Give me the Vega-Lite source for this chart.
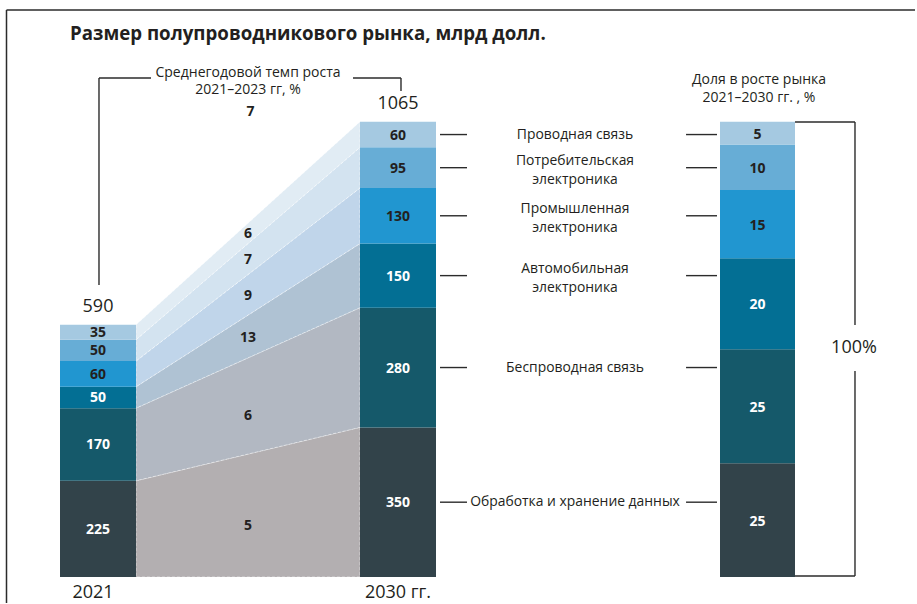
{
  "$schema": "https://vega.github.io/schema/vega-lite/v6.json",
  "width": 917,
  "height": 604,
  "autosize": {"type": "fit", "contains": "padding"},
  "padding": 0,
  "background": "#ffffff",
  "config": {
    "font": "Open Sans",
    "view": {"stroke": null},
    "text": {"color": "#231f20"},
    "rule": {"color": "#2b2b2b", "strokeWidth": 1.4}
  },
  "datasets": {
    "market": [
      {"year": 2021, "segment": "Обработка и хранение данных", "label": "Обработка и хранение данных", "rank": 1, "value": 225, "cagr": 5},
      {"year": 2021, "segment": "Беспроводная связь", "label": "Беспроводная связь", "rank": 2, "value": 170, "cagr": 6},
      {"year": 2021, "segment": "Автомобильная электроника", "label": "Автомобильная\nэлектроника", "rank": 3, "value": 50, "cagr": 13},
      {"year": 2021, "segment": "Промышленная электроника", "label": "Промышленная\nэлектроника", "rank": 4, "value": 60, "cagr": 9},
      {"year": 2021, "segment": "Потребительская электроника", "label": "Потребительская\nэлектроника", "rank": 5, "value": 50, "cagr": 7},
      {"year": 2021, "segment": "Проводная связь", "label": "Проводная связь", "rank": 6, "value": 35, "cagr": 6},
      {"year": 2030, "segment": "Обработка и хранение данных", "label": "Обработка и хранение данных", "rank": 1, "value": 350, "cagr": 5},
      {"year": 2030, "segment": "Беспроводная связь", "label": "Беспроводная связь", "rank": 2, "value": 280, "cagr": 6},
      {"year": 2030, "segment": "Автомобильная электроника", "label": "Автомобильная\nэлектроника", "rank": 3, "value": 150, "cagr": 13},
      {"year": 2030, "segment": "Промышленная электроника", "label": "Промышленная\nэлектроника", "rank": 4, "value": 130, "cagr": 9},
      {"year": 2030, "segment": "Потребительская электроника", "label": "Потребительская\nэлектроника", "rank": 5, "value": 95, "cagr": 7},
      {"year": 2030, "segment": "Проводная связь", "label": "Проводная связь", "rank": 6, "value": 60, "cagr": 6}
    ],
    "share": [
      {"period": "2021–2030", "segment": "Обработка и хранение данных", "rank": 1, "share": 25},
      {"period": "2021–2030", "segment": "Беспроводная связь", "rank": 2, "share": 25},
      {"period": "2021–2030", "segment": "Автомобильная электроника", "rank": 3, "share": 20},
      {"period": "2021–2030", "segment": "Промышленная электроника", "rank": 4, "share": 15},
      {"period": "2021–2030", "segment": "Потребительская электроника", "rank": 5, "share": 10},
      {"period": "2021–2030", "segment": "Проводная связь", "rank": 6, "share": 5}
    ]
  },
  "resolve": {"scale": {"x": "independent", "y": "independent", "color": "independent"}},
  "layer": [
    {
      "layer": [
        {
          "data": {"name": "market"},
          "mark": {"type": "area", "orient": "vertical", "interpolate": "linear", "stroke": "#ffffff", "strokeWidth": 0.7, "strokeDash": [3, 2], "strokeOpacity": 0.7},
          "encoding": {
            "x": {"field": "year", "type": "quantitative", "scale": {"domain": [2021, 2030], "range": [136, 360], "zero": false, "nice": false}, "axis": null},
            "y": {"field": "value", "type": "quantitative", "stack": "zero", "scale": {"domain": [-63.16, 1349.74], "range": [604, 0], "zero": false, "nice": false}, "axis": null},
            "color": {"field": "segment", "type": "nominal", "legend": null,
              "scale": {"domain": ["Обработка и хранение данных", "Беспроводная связь", "Автомобильная электроника", "Промышленная электроника", "Потребительская электроника", "Проводная связь"],
                        "range": ["#b3afb1", "#b2b8c2", "#afc2d3", "#c0d5ea", "#d3e3f0", "#e1ecf4"]}},
            "order": {"field": "rank", "type": "quantitative"}
          }
        },
        {
          "data": {"name": "market"},
          "mark": {"type": "text", "fontWeight": "bold", "fontSize": 14, "dy": 1},
          "encoding": {
            "x": {"datum": 2025.5, "type": "quantitative", "scale": {"domain": [2021, 2030], "range": [136, 360], "zero": false, "nice": false}, "axis": null},
            "y": {"aggregate": "mean", "field": "value", "type": "quantitative", "stack": "zero", "bandPosition": 0.5, "scale": {"domain": [-63.16, 1349.74], "range": [604, 0], "zero": false, "nice": false}, "axis": null},
            "detail": {"field": "segment", "type": "nominal"},
            "order": {"field": "rank", "type": "quantitative"},
            "text": {"field": "cagr", "type": "quantitative"},
            "opacity": {"condition": {"test": "datum.rank <= 2", "value": 0}, "value": 1}
          }
        },
        {
          "data": {"name": "market"},
          "mark": {"type": "text", "fontWeight": "bold", "fontSize": 14, "dy": 10},
          "encoding": {
            "x": {"datum": 2025.5, "type": "quantitative", "scale": {"domain": [2021, 2030], "range": [136, 360], "zero": false, "nice": false}, "axis": null},
            "y": {"aggregate": "mean", "field": "value", "type": "quantitative", "stack": "zero", "bandPosition": 0.5, "scale": {"domain": [-63.16, 1349.74], "range": [604, 0], "zero": false, "nice": false}, "axis": null},
            "detail": {"field": "segment", "type": "nominal"},
            "order": {"field": "rank", "type": "quantitative"},
            "text": {"field": "cagr", "type": "quantitative"},
            "opacity": {"condition": {"test": "datum.rank <= 2", "value": 1}, "value": 0}
          }
        },
        {
          "data": {"name": "market"},
          "transform": [{"filter": "datum.year == 2030"}],
          "mark": {"type": "rule"},
          "encoding": {
            "x": {"datum": 2033.214, "type": "quantitative", "scale": {"domain": [2021, 2030], "range": [136, 360], "zero": false, "nice": false}, "axis": null},
            "x2": {"datum": 2034.3},
            "y": {"field": "value", "type": "quantitative", "stack": "zero", "bandPosition": 0.5, "scale": {"domain": [-63.16, 1349.74], "range": [604, 0], "zero": false, "nice": false}, "axis": null},
            "detail": {"field": "segment", "type": "nominal"},
            "order": {"field": "rank", "type": "quantitative"}
          }
        },
        {
          "data": {"name": "market"},
          "transform": [{"filter": "datum.year == 2030"}],
          "mark": {"type": "rule"},
          "encoding": {
            "x": {"datum": 2043.1, "type": "quantitative", "scale": {"domain": [2021, 2030], "range": [136, 360], "zero": false, "nice": false}, "axis": null},
            "x2": {"datum": 2044.344},
            "y": {"field": "value", "type": "quantitative", "stack": "zero", "bandPosition": 0.5, "scale": {"domain": [-63.16, 1349.74], "range": [604, 0], "zero": false, "nice": false}, "axis": null},
            "detail": {"field": "segment", "type": "nominal"},
            "order": {"field": "rank", "type": "quantitative"}
          }
        },
        {
          "data": {"name": "market"},
          "transform": [{"filter": "datum.year == 2030"}],
          "mark": {"type": "text", "fontSize": 13.9, "lineBreak": "\n", "lineHeight": 19, "align": "center", "baseline": "middle"},
          "encoding": {
            "x": {"datum": 2038.638, "type": "quantitative", "scale": {"domain": [2021, 2030], "range": [136, 360], "zero": false, "nice": false}, "axis": null},
            "y": {"field": "value", "type": "quantitative", "stack": "zero", "bandPosition": 0.5, "scale": {"domain": [-63.16, 1349.74], "range": [604, 0], "zero": false, "nice": false}, "axis": null},
            "detail": {"field": "segment", "type": "nominal"},
            "order": {"field": "rank", "type": "quantitative"},
            "text": {"field": "label", "type": "nominal"},
            "opacity": {"condition": {"test": "datum.rank >= 3 && datum.rank <= 5", "value": 0}, "value": 1}
          }
        },
        {
          "data": {"name": "market"},
          "transform": [{"filter": "datum.year == 2030"}],
          "mark": {"type": "text", "fontSize": 13.9, "lineBreak": "\n", "lineHeight": 19, "align": "center", "baseline": "middle", "dy": -6.5},
          "encoding": {
            "x": {"datum": 2038.638, "type": "quantitative", "scale": {"domain": [2021, 2030], "range": [136, 360], "zero": false, "nice": false}, "axis": null},
            "y": {"field": "value", "type": "quantitative", "stack": "zero", "bandPosition": 0.5, "scale": {"domain": [-63.16, 1349.74], "range": [604, 0], "zero": false, "nice": false}, "axis": null},
            "detail": {"field": "segment", "type": "nominal"},
            "order": {"field": "rank", "type": "quantitative"},
            "text": {"field": "label", "type": "nominal"},
            "opacity": {"condition": {"test": "datum.rank >= 3 && datum.rank <= 5", "value": 1}, "value": 0}
          }
        },
        {
          "data": {"values": [{}]},
          "mark": {"type": "text", "fontSize": 18.7, "fontWeight": "bold", "align": "left", "baseline": "alphabetic", "text": "Размер полупроводникового рынка, млрд долл."},
          "encoding": {
            "x": {"datum": 2018.348, "type": "quantitative", "scale": {"domain": [2021, 2030], "range": [136, 360], "zero": false, "nice": false}, "axis": null},
            "y": {"datum": 1257.3, "type": "quantitative", "scale": {"domain": [-63.16, 1349.74], "range": [604, 0], "zero": false, "nice": false}, "axis": null}
          }
        },
        {
          "data": {"values": [{}]},
          "mark": {"type": "text", "fontSize": 14, "lineBreak": "\n", "lineHeight": 17, "align": "center", "baseline": "middle", "text": "Среднегодовой темп роста\n2021–2023 гг, %"},
          "encoding": {
            "x": {"datum": 2025.5, "type": "quantitative", "scale": {"domain": [2021, 2030], "range": [136, 360], "zero": false, "nice": false}, "axis": null},
            "y": {"datum": 1179, "type": "quantitative", "scale": {"domain": [-63.16, 1349.74], "range": [604, 0], "zero": false, "nice": false}, "axis": null}
          }
        },
        {
          "data": {"values": [{}]},
          "mark": {"type": "text", "fontSize": 14, "fontWeight": "bold", "align": "center", "baseline": "middle", "text": "7"},
          "encoding": {
            "x": {"datum": 2025.6, "type": "quantitative", "scale": {"domain": [2021, 2030], "range": [136, 360], "zero": false, "nice": false}, "axis": null},
            "y": {"datum": 1088, "type": "quantitative", "scale": {"domain": [-63.16, 1349.74], "range": [604, 0], "zero": false, "nice": false}, "axis": null}
          }
        },
        {
          "data": {"values": [{}]},
          "mark": {"type": "text", "fontSize": 14, "lineBreak": "\n", "lineHeight": 18.3, "align": "center", "baseline": "middle", "text": "Доля в росте рынка\n2021–2030 гг. , %"},
          "encoding": {
            "x": {"datum": 2046.031, "type": "quantitative", "scale": {"domain": [2021, 2030], "range": [136, 360], "zero": false, "nice": false}, "axis": null},
            "y": {"datum": 1163.3, "type": "quantitative", "scale": {"domain": [-63.16, 1349.74], "range": [604, 0], "zero": false, "nice": false}, "axis": null}
          }
        },
        {
          "data": {"values": [{}]},
          "mark": {"type": "text", "fontSize": 18, "align": "center", "baseline": "middle", "text": "100%"},
          "encoding": {
            "x": {"datum": 2049.848, "type": "quantitative", "scale": {"domain": [2021, 2030], "range": [136, 360], "zero": false, "nice": false}, "axis": null},
            "y": {"datum": 535.7, "type": "quantitative", "scale": {"domain": [-63.16, 1349.74], "range": [604, 0], "zero": false, "nice": false}, "axis": null}
          }
        },
        {
          "data": {"values": [{}]},
          "mark": {"type": "rule"},
          "encoding": {
            "x": {"datum": 2019.513, "type": "quantitative", "scale": {"domain": [2021, 2030], "range": [136, 360], "zero": false, "nice": false}, "axis": null},
            "y": {"datum": 683.1, "type": "quantitative", "scale": {"domain": [-63.16, 1349.74], "range": [604, 0], "zero": false, "nice": false}, "axis": null},
            "y2": {"datum": 1167.3}
          }
        },
        {
          "data": {"values": [{}]},
          "mark": {"type": "rule"},
          "encoding": {
            "x": {"datum": 2019.513, "type": "quantitative", "scale": {"domain": [2021, 2030], "range": [136, 360], "zero": false, "nice": false}, "axis": null},
            "x2": {"datum": 2021.603},
            "y": {"datum": 1167.3, "type": "quantitative", "scale": {"domain": [-63.16, 1349.74], "range": [604, 0], "zero": false, "nice": false}, "axis": null}
          }
        },
        {
          "data": {"values": [{}]},
          "mark": {"type": "rule"},
          "encoding": {
            "x": {"datum": 2029.719, "type": "quantitative", "scale": {"domain": [2021, 2030], "range": [136, 360], "zero": false, "nice": false}, "axis": null},
            "x2": {"datum": 2031.647},
            "y": {"datum": 1167.3, "type": "quantitative", "scale": {"domain": [-63.16, 1349.74], "range": [604, 0], "zero": false, "nice": false}, "axis": null}
          }
        },
        {
          "data": {"values": [{}]},
          "mark": {"type": "rule"},
          "encoding": {
            "x": {"datum": 2031.647, "type": "quantitative", "scale": {"domain": [2021, 2030], "range": [136, 360], "zero": false, "nice": false}, "axis": null},
            "y": {"datum": 1136.9, "type": "quantitative", "scale": {"domain": [-63.16, 1349.74], "range": [604, 0], "zero": false, "nice": false}, "axis": null},
            "y2": {"datum": 1167.3}
          }
        },
        {
          "data": {"values": [{}]},
          "mark": {"type": "rule"},
          "encoding": {
            "x": {"datum": 2047.478, "type": "quantitative", "scale": {"domain": [2021, 2030], "range": [136, 360], "zero": false, "nice": false}, "axis": null},
            "x2": {"datum": 2049.888},
            "y": {"datum": 1064.4, "type": "quantitative", "scale": {"domain": [-63.16, 1349.74], "range": [604, 0], "zero": false, "nice": false}, "axis": null}
          }
        },
        {
          "data": {"values": [{}]},
          "mark": {"type": "rule"},
          "encoding": {
            "x": {"datum": 2047.478, "type": "quantitative", "scale": {"domain": [2021, 2030], "range": [136, 360], "zero": false, "nice": false}, "axis": null},
            "x2": {"datum": 2049.888},
            "y": {"datum": 2.34, "type": "quantitative", "scale": {"domain": [-63.16, 1349.74], "range": [604, 0], "zero": false, "nice": false}, "axis": null}
          }
        },
        {
          "data": {"values": [{}]},
          "mark": {"type": "rule"},
          "encoding": {
            "x": {"datum": 2049.888, "type": "quantitative", "scale": {"domain": [2021, 2030], "range": [136, 360], "zero": false, "nice": false}, "axis": null},
            "y": {"datum": 589.5, "type": "quantitative", "scale": {"domain": [-63.16, 1349.74], "range": [604, 0], "zero": false, "nice": false}, "axis": null},
            "y2": {"datum": 1064.4}
          }
        },
        {
          "data": {"values": [{}]},
          "mark": {"type": "rule"},
          "encoding": {
            "x": {"datum": 2049.888, "type": "quantitative", "scale": {"domain": [2021, 2030], "range": [136, 360], "zero": false, "nice": false}, "axis": null},
            "y": {"datum": 2.34, "type": "quantitative", "scale": {"domain": [-63.16, 1349.74], "range": [604, 0], "zero": false, "nice": false}, "axis": null},
            "y2": {"datum": 481.9}
          }
        },
        {
          "data": {"values": [{}]},
          "mark": {"type": "rule", "strokeWidth": 1.5},
          "encoding": {
            "x": {"datum": 2015.797, "type": "quantitative", "scale": {"domain": [2021, 2030], "range": [136, 360], "zero": false, "nice": false}, "axis": null},
            "y": {"datum": -60.8, "type": "quantitative", "scale": {"domain": [-63.16, 1349.74], "range": [604, 0], "zero": false, "nice": false}, "axis": null},
            "y2": {"datum": 1326.35}
          }
        },
        {
          "data": {"values": [{}]},
          "mark": {"type": "rule", "strokeWidth": 1.5},
          "encoding": {
            "x": {"datum": 2015.797, "type": "quantitative", "scale": {"domain": [2021, 2030], "range": [136, 360], "zero": false, "nice": false}, "axis": null},
            "x2": {"datum": 2052.3},
            "y": {"datum": 1326.35, "type": "quantitative", "scale": {"domain": [-63.16, 1349.74], "range": [604, 0], "zero": false, "nice": false}, "axis": null}
          }
        }
      ]
    },
    {
      "data": {"name": "market"},
      "layer": [
        {
          "mark": {"type": "bar"},
          "encoding": {
            "x": {"field": "year", "type": "ordinal", "scale": {"type": "band", "domain": [2021, 2030], "range": [60, 436], "paddingInner": 0.746667, "paddingOuter": 0}, "axis": null},
            "y": {"field": "value", "type": "quantitative", "stack": "zero", "scale": {"domain": [-63.16, 1349.74], "range": [604, 0], "zero": false, "nice": false}, "axis": null},
            "color": {"field": "segment", "type": "nominal", "legend": null,
              "scale": {"domain": ["Обработка и хранение данных", "Беспроводная связь", "Автомобильная электроника", "Промышленная электроника", "Потребительская электроника", "Проводная связь"],
                        "range": ["#32434a", "#15596a", "#036f94", "#2196d0", "#67add6", "#a5c9e1"]}},
            "order": {"field": "rank", "type": "quantitative"}
          }
        },
        {
          "mark": {"type": "text", "fontWeight": "bold", "fontSize": 14, "baseline": "middle", "dy": 1},
          "encoding": {
            "x": {"field": "year", "type": "ordinal", "scale": {"type": "band", "domain": [2021, 2030], "range": [60, 436], "paddingInner": 0.746667, "paddingOuter": 0}, "axis": null},
            "y": {"field": "value", "type": "quantitative", "stack": "zero", "bandPosition": 0.5, "scale": {"domain": [-63.16, 1349.74], "range": [604, 0], "zero": false, "nice": false}, "axis": null},
            "detail": {"field": "segment", "type": "nominal"},
            "order": {"field": "rank", "type": "quantitative"},
            "text": {"field": "value", "type": "quantitative"},
            "color": {"condition": {"test": "datum.rank >= 4", "value": "#231f20"}, "value": "#ffffff"}
          }
        },
        {
          "mark": {"type": "text", "fontSize": 18, "baseline": "alphabetic", "dy": -12.5},
          "encoding": {
            "x": {"field": "year", "type": "ordinal", "scale": {"type": "band", "domain": [2021, 2030], "range": [60, 436], "paddingInner": 0.746667, "paddingOuter": 0}, "axis": null},
            "y": {"aggregate": "sum", "field": "value", "type": "quantitative", "stack": null, "scale": {"domain": [-63.16, 1349.74], "range": [604, 0], "zero": false, "nice": false}, "axis": null},
            "text": {"aggregate": "sum", "field": "value", "type": "quantitative"}
          }
        },
        {
          "data": {"values": [{}]},
          "mark": {"type": "text", "fontSize": 18, "baseline": "middle", "dx": -5, "text": "2021"},
          "encoding": {
            "x": {"datum": 2021, "type": "ordinal", "scale": {"type": "band", "domain": [2021, 2030], "range": [60, 436], "paddingInner": 0.746667, "paddingOuter": 0}, "axis": null},
            "y": {"datum": -36.3, "type": "quantitative", "scale": {"domain": [-63.16, 1349.74], "range": [604, 0], "zero": false, "nice": false}, "axis": null}
          }
        },
        {
          "data": {"values": [{}]},
          "mark": {"type": "text", "fontSize": 18, "baseline": "middle", "text": "2030 гг."},
          "encoding": {
            "x": {"datum": 2030, "type": "ordinal", "scale": {"type": "band", "domain": [2021, 2030], "range": [60, 436], "paddingInner": 0.746667, "paddingOuter": 0}, "axis": null},
            "y": {"datum": -36.3, "type": "quantitative", "scale": {"domain": [-63.16, 1349.74], "range": [604, 0], "zero": false, "nice": false}, "axis": null}
          }
        }
      ]
    },
    {
      "data": {"name": "share"},
      "layer": [
        {
          "mark": {"type": "bar"},
          "encoding": {
            "x": {"field": "period", "type": "nominal", "scale": {"type": "band", "domain": ["2021–2030"], "range": [720, 795], "paddingInner": 0, "paddingOuter": 0}, "axis": null},
            "y": {"field": "share", "type": "quantitative", "stack": "zero", "scale": {"domain": [-5.93, 126.73], "range": [604, 0], "zero": false, "nice": false}, "axis": null},
            "color": {"field": "segment", "type": "nominal", "legend": null,
              "scale": {"domain": ["Обработка и хранение данных", "Беспроводная связь", "Автомобильная электроника", "Промышленная электроника", "Потребительская электроника", "Проводная связь"],
                        "range": ["#32434a", "#15596a", "#036f94", "#2196d0", "#67add6", "#a5c9e1"]}},
            "order": {"field": "rank", "type": "quantitative"}
          }
        },
        {
          "mark": {"type": "text", "fontWeight": "bold", "fontSize": 14, "baseline": "middle", "dy": 1.5},
          "encoding": {
            "x": {"field": "period", "type": "nominal", "scale": {"type": "band", "domain": ["2021–2030"], "range": [720, 795], "paddingInner": 0, "paddingOuter": 0}, "axis": null},
            "y": {"field": "share", "type": "quantitative", "stack": "zero", "bandPosition": 0.5, "scale": {"domain": [-5.93, 126.73], "range": [604, 0], "zero": false, "nice": false}, "axis": null},
            "detail": {"field": "segment", "type": "nominal"},
            "order": {"field": "rank", "type": "quantitative"},
            "text": {"field": "share", "type": "quantitative"},
            "color": {"condition": {"test": "datum.rank >= 4", "value": "#231f20"}, "value": "#ffffff"}
          }
        }
      ]
    }
  ]
}
